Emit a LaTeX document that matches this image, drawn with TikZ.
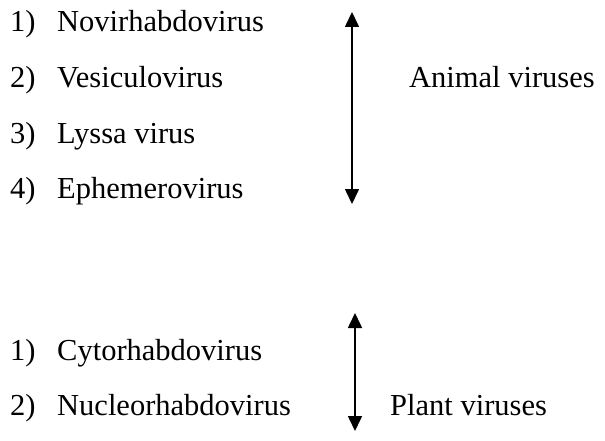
\documentclass[tikz,border=0pt]{standalone}
\usepackage{fontspec}
\setmainfont{Liberation Serif}
\newfontfamily\tnrfont{Liberation Serif}
\usetikzlibrary{arrows.meta}
\begin{document}
\begin{tikzpicture}[x=1pt,y=-1pt,
  lbl/.style={anchor=base west,inner sep=0pt,font=\tnrfont\fontsize{30.5}{36}\selectfont},
  dbl/.style={line width=1.6pt,{Triangle[width=14pt,length=15pt]}-{Triangle[width=14pt,length=15pt]}}]
\useasboundingbox (0,0) rectangle (605,441);
% animal list
\node[lbl] (n1) at (10,31.5) {1)};
\node[lbl] (t1) at (57,31.5) {Novirhabdovirus};
\node[lbl] (n2) at (10,87.2) {2)};
\node[lbl] (t2) at (57,87.2) {Vesiculovirus};
\node[lbl] (n3) at (10,143) {3)};
\node[lbl] (t3) at (57,143) {Lyssa virus};
\node[lbl] (n4) at (10,198.7) {4)};
\node[lbl] (t4) at (57,198.7) {Ephemerovirus};
\coordinate (a1) at (352,12);
\coordinate (a2) at (352,204);
\draw[dbl] (a1) -- (a2);
\node[lbl] (animal) at (409,87.2) {Animal viruses};
% plant list
\node[lbl] (p1n) at (10,360) {1)};
\node[lbl] (p1) at (57,360) {Cytorhabdovirus};
\node[lbl] (p2n) at (10,415) {2)};
\node[lbl] (p2) at (57,415) {Nucleorhabdovirus};
\coordinate (b1) at (355,313);
\coordinate (b2) at (355,431);
\draw[dbl] (b1) -- (b2);
\node[lbl] (plant) at (390,415) {Plant viruses};
\end{tikzpicture}
\end{document}
